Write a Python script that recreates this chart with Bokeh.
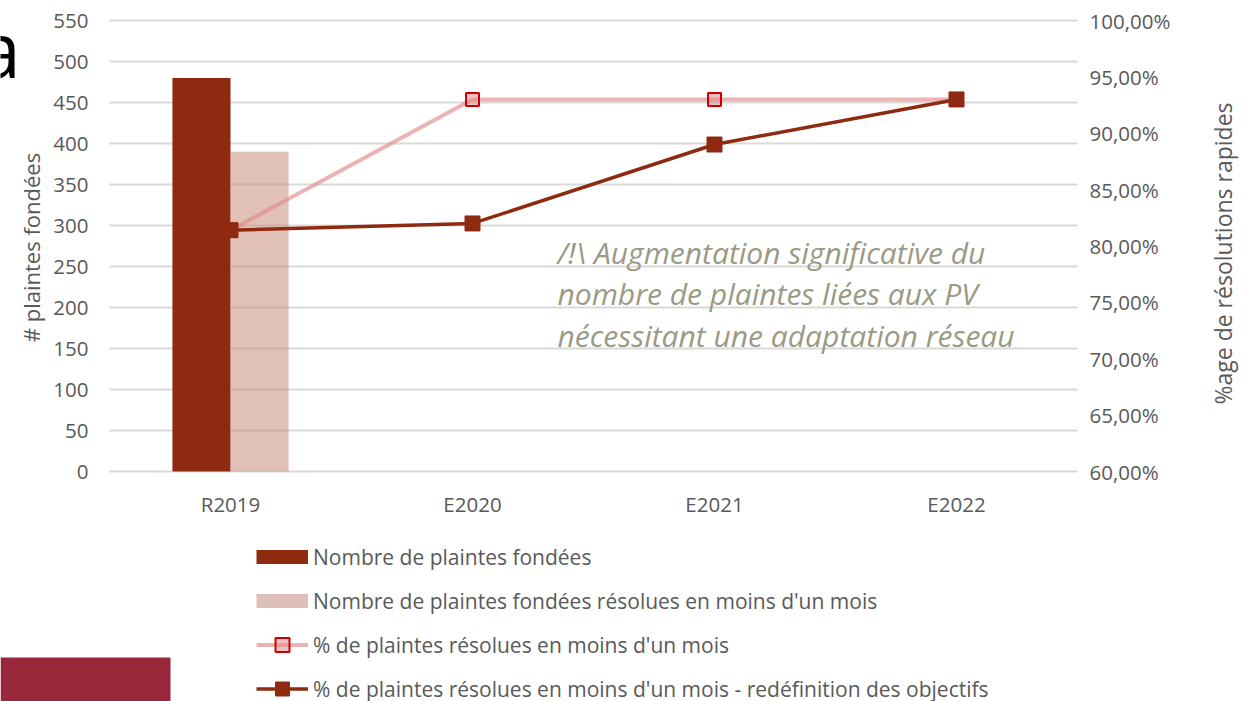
import math
from bokeh.plotting import figure
from bokeh.models import (Range1d, Legend, LegendItem, Label,
                          BoxAnnotation, ColumnDataSource)
from bokeh.core.properties import value
from bokeh.transform import dodge
from bokeh.embed import file_html
from bokeh.resources import INLINE

NAN = float("nan")

# ---------------- data ----------------
categories = ["R2019", "E2020", "E2021", "E2022"]
plaintes_fondees = [480, NAN, NAN, NAN]
plaintes_resolues = [390, NAN, NAN, NAN]
pct_resolues = [81.4, 93.0, 93.0, 93.0]
pct_redefinition = [81.4, 82.0, 89.0, 93.0]

left_ticks = [0, 50, 100, 150, 200, 250, 300, 350, 400, 450, 500, 550]
left_tick_labels = [str(t) for t in left_ticks]
right_ticks = [60, 65, 70, 75, 80, 85, 90, 95, 100]
right_tick_labels = ["60,00%", "65,00%", "70,00%", "75,00%", "80,00%",
                     "85,00%", "90,00%", "95,00%", "100,00%"]

legend_labels = ["Nombre de plaintes fondées",
                 "Nombre de plaintes fondées résolues en moins d'un mois",
                 "% de plaintes résolues en moins d'un mois",
                 "% de plaintes résolues en moins d'un mois - redéfinition des objectifs"]

annotation_lines = ["/!\\ Augmentation significative du",
                    "nombre de plaintes liées aux PV",
                    "nécessitant une adaptation réseau"]

# ---------------- layout (pixels) ----------------
W, H = 1247, 701
PLOT_L, PLOT_R = 109, 1077       # plot-area edges
PLOT_T, PLOT_B = 20, 471
n = len(categories)
cat_px = (PLOT_R - PLOT_L) / n
ppu_left = (PLOT_B - PLOT_T) / (left_ticks[-1] - left_ticks[0])
ppu_right = (PLOT_B - PLOT_T) / (right_ticks[-1] - right_ticks[0])

x_start = -PLOT_L / cat_px
x_end = n + (W - PLOT_R) / cat_px
y_start = left_ticks[0] - (H - PLOT_B) / ppu_left
y_end = left_ticks[-1] + PLOT_T / ppu_left
r_start = right_ticks[0] - (H - PLOT_B) / ppu_right
r_end = right_ticks[-1] + PLOT_T / ppu_right

def px_x(px):
    return (px - PLOT_L) / cat_px

def px_y(py):
    return left_ticks[0] + (PLOT_B - py) / ppu_left

DARK = "#8e2a10"
LIGHT_BAR = "#dfc0b8"
TXT = "#595959"
FONT = "Open Sans"

xpos = [i + 0.5 for i in range(n)]
src = ColumnDataSource(dict(x=xpos, cat=categories, fondees=plaintes_fondees,
                            resolues=plaintes_resolues,
                            pct1=pct_resolues, pct2=pct_redefinition))

p = figure(x_range=Range1d(x_start, x_end), y_range=Range1d(y_start, y_end),
           width=W, height=H, output_backend="svg", toolbar_location=None,
           min_border=0, min_border_left=0, min_border_right=0,
           min_border_top=0, min_border_bottom=0)
p.extra_y_ranges = {"pct": Range1d(r_start, r_end)}
p.axis.visible = False
p.grid.visible = False
p.outline_line_color = None
p.background_fill_color = "white"
p.border_fill_color = "white"

# gridlines (left-axis ticks)
gsrc = ColumnDataSource(dict(y=left_ticks, lab=left_tick_labels,
                             x0=[0] * len(left_ticks), x1=[n] * len(left_ticks)))
p.segment(x0="x0", x1="x1", y0="y", y1="y", source=gsrc,
          line_color="#d9d9d9", line_width=2)

# bars
b1 = p.vbar(x=dodge("x", -0.12), top="fondees", width=0.24,
            source=src, fill_color=DARK, line_color=None)
b2 = p.vbar(x=dodge("x", 0.12), top="resolues", width=0.24,
            source=src, fill_color="#c88c7d", fill_alpha=0.55, line_color=None)

# lines
l1 = p.line(x="x", y="pct1", source=src, y_range_name="pct",
            line_color="#e08a8a", line_alpha=0.65, line_width=4)
s1 = p.scatter(x="x", y="pct1", source=src, y_range_name="pct", marker="square",
               size=13, fill_color="#e08a8a", fill_alpha=0.55,
               line_color="#cc0000", line_width=2)
l2 = p.line(x="x", y="pct2", source=src, y_range_name="pct",
            line_color=DARK, line_width=3.5)
s2 = p.scatter(x="x", y="pct2", source=src, y_range_name="pct", marker="square",
               size=15, fill_color=DARK, line_color=DARK, line_width=1)

# legend swatches for the bars (no visible data, shown only in the legend)
esrc = ColumnDataSource(dict(x=[NAN, NAN], y=[NAN, NAN]))
sw1 = p.line(x="x", y="y", source=esrc, line_color=DARK, line_width=14, line_cap="butt")
sw2 = p.line(x="x", y="y", source=esrc, line_color=LIGHT_BAR, line_width=14, line_cap="butt")

# tick labels
p.text(x=0, y="y", text="lab", source=gsrc, x_offset=-21,
       text_align="right", text_baseline="middle", text_font=value(FONT),
       text_font_size="20.5px", text_color=TXT)
rsrc = ColumnDataSource(dict(y=right_ticks, lab=right_tick_labels))
p.text(x=n, y="y", text="lab", source=rsrc, y_range_name="pct", x_offset=12,
       text_align="left", text_baseline="middle", text_font=value(FONT),
       text_font_size="20.5px", text_color=TXT)
p.text(x="x", y=px_y(503), text="cat", source=src, text_align="center",
       text_baseline="middle", text_font=value(FONT), text_font_size="20.5px",
       text_color=TXT)

# axis titles
p.add_layout(Label(x=px_x(30), y=px_y(247), text="# plaintes fondées",
                   angle=math.pi / 2, text_align="center", text_baseline="middle",
                   text_font=FONT, text_font_size="22px", text_color=TXT))
p.add_layout(Label(x=px_x(1222), y=px_y(253), text="%age de résolutions rapides",
                   angle=math.pi / 2, text_align="center", text_baseline="middle",
                   text_font=FONT, text_font_size="23px", text_color=TXT))

# annotation text
for t, py in zip(annotation_lines, [252, 293, 335]):
    p.add_layout(Label(x=px_x(557), y=px_y(py), text=t, text_font=FONT,
                       text_font_style="italic", text_font_size="30px",
                       text_color="#9a9a85", text_baseline="alphabetic"))

# legend
legend = Legend(items=[LegendItem(label=legend_labels[0], renderers=[sw1]),
                       LegendItem(label=legend_labels[1], renderers=[sw2]),
                       LegendItem(label=legend_labels[2], renderers=[l1, s1]),
                       LegendItem(label=legend_labels[3], renderers=[l2, s2])],
                location=(256, -5), orientation="vertical",
                glyph_width=52, glyph_height=35, label_height=35,
                spacing=9, padding=0, margin=0, label_standoff=5,
                label_text_font=FONT, label_text_font_size="21px",
                label_text_color=TXT, border_line_color=None,
                background_fill_alpha=0)
p.add_layout(legend, "center")

# slide decorations
p.add_layout(Label(x=-22, y=48, x_units="canvas", y_units="canvas", text="a",
                   text_font=FONT, text_font_size="76px", text_color="black",
                   text_baseline="alphabetic"))
p.add_layout(BoxAnnotation(left=0, right=170, top=657, bottom=H,
                           left_units="canvas", right_units="canvas",
                           top_units="canvas", bottom_units="canvas",
                           fill_color="#98273a", fill_alpha=1, line_color=None))

open("out.html", "w").write(file_html(p, INLINE))
